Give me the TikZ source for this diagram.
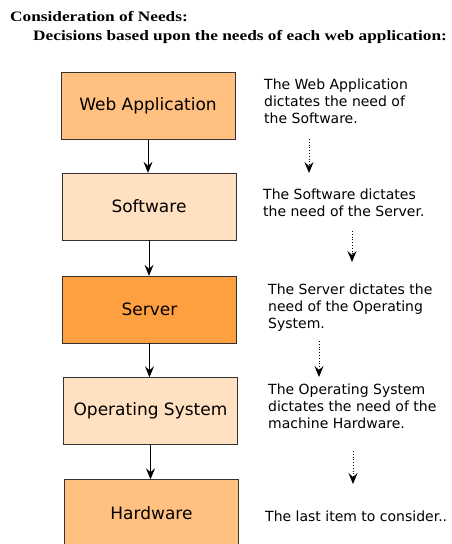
\documentclass[tikz,border=0pt]{standalone}
\usepackage{fontspec}
\setmainfont{DejaVu Sans}
\newfontfamily\titlefont{Liberation Serif}[FakeStretch=1.2]
\usetikzlibrary{arrows.meta}

\definecolor{peach}{RGB}{255,192,128}
\definecolor{cream}{RGB}{255,224,192}
\definecolor{amber}{RGB}{255,160,64}

\begin{document}
\begin{tikzpicture}[x=1pt, y=-1pt,
    box/.style={
        draw=black!80,
        minimum width=174pt,
        minimum height=67pt,
        inner sep=0pt,
        font=\fontsize{17}{20}\selectfont
    },
    note/.style={
        anchor=north west,
        align=left,
        inner sep=0pt,
        font=\fontsize{14}{17}\selectfont
    },
    heading/.style={
        anchor=base west,
        inner sep=0pt,
        font=\titlefont\bfseries\fontsize{14.4}{17}\selectfont
    },
    link/.style={-{Stealth[length=11pt,width=9pt,inset=4pt]}, line width=0.8pt},
    hint/.style={link, dotted}
]
\useasboundingbox[fill=white] (0,0) rectangle (451,544);

%%%%%%%%%%%%%%%%%%%%%%%%
% Title
%%%%%%%%%%%%%%%%%%%%%%%%

\node[heading] (title) at (10,21) {Consideration of Needs:};
\node[heading] (subtitle) at (33,40) {Decisions based upon the needs of each web application:};

%%%%%%%%%%%%%%%%%%%%%%%%
% Chain of boxes
%%%%%%%%%%%%%%%%%%%%%%%%

\node[box, fill=peach] (web) at (148,106) {Web Application};
\node[box, fill=cream] (soft) at (149,206.5) {Software};
\node[box, fill=amber] (server) at (149.5,309.5) {Server};
\node[box, fill=cream] (os) at (150.5,411) {Operating System};
\node[box, fill=peach] (hw) at (151.5,513) {Hardware};

\draw[link] (web.south) -- (web.south |- soft.north);
\draw[link] (soft.south) -- (soft.south |- server.north);
\draw[link] (server.south) -- (server.south |- os.north);
\draw[link] (os.south) -- (os.south |- hw.north);

%%%%%%%%%%%%%%%%%%%%%%%%
% Notes on the right
%%%%%%%%%%%%%%%%%%%%%%%%

\node[note] (n1) at (264,79) {The Web Application\\dictates the need of\\the Software.};
\node[note] (n2) at (263,189) {The Software dictates\\the need of the Server.};
\node[note] (n3) at (268,284) {The Server dictates the\\need of the Operating\\System.};
\node[note] (n4) at (268,384) {The Operating System\\dictates the need of the\\machine Hardware.};
\node[note] (n5) at (265,511) {The last item to consider..};

% dotted hints between the notes
\coordinate (h1a) at (309,139);
\coordinate (h1b) at (309,173);
\coordinate (h2a) at (352,231);
\coordinate (h2b) at (352,262);
\coordinate (h3a) at (319,341);
\coordinate (h3b) at (319,377);
\coordinate (h4a) at (353,451);
\coordinate (h4b) at (353,484);

\draw[hint] (h1a) -- (h1b);
\draw[hint] (h2a) -- (h2b);
\draw[hint] (h3a) -- (h3b);
\draw[hint] (h4a) -- (h4b);

\end{tikzpicture}
\end{document}
